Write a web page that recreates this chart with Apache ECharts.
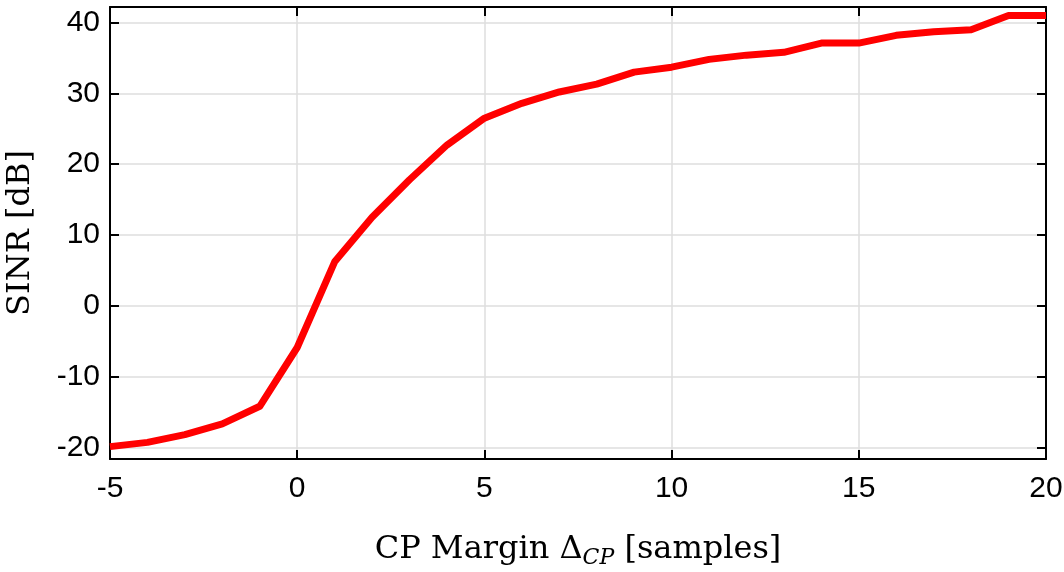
<!DOCTYPE html>
<html>
<head>
<meta charset="utf-8">
<script src="https://cdn.jsdelivr.net/npm/echarts@6/dist/echarts.min.js"></script>
<style>
  html, body { margin: 0; padding: 0; background: #fff; }
  #chart { width: 1064px; height: 572px; }
</style>
</head>
<body>
<div id="chart"></div>
<script>
// CP margin (samples) and SINR (dB)
const cpMargin = [-5, -4, -3, -2, -1, 0, 1, 2, 3, 4, 5, 6, 7, 8, 9, 10, 11, 12, 13, 14, 15, 16, 17, 18, 19, 20];
const sinr = [-19.9, -19.3, -18.2, -16.7, -14.2, -5.9, 6.2, 12.5, 17.8, 22.7, 26.5, 28.6, 30.2, 31.3, 33.0, 33.7, 34.8, 35.4, 35.8, 37.1, 37.1, 38.2, 38.7, 39.0, 41.0, 41.0];
const yTicks = [-20, -10, 0, 10, 20, 30, 40];

const tickFont = 'Liberation Sans, Arial, Helvetica, sans-serif';
const titleFont = 'DejaVu Serif, Liberation Serif, serif';

let chart = echarts.init(document.getElementById('chart'));

const points = cpMargin.map(function (x, i) { return [x, sinr[i]]; });

const frame = { color: '#000', width: 2 };

chart.setOption({
  animation: false,
  grid: { left: 110, right: 18, top: 7, bottom: 113, containLabel: false, outerBoundsMode: 'none' },
  xAxis: [
    {
      type: 'value',
      min: -5, max: 20, interval: 5,
      position: 'bottom',
      axisLine: { show: true, onZero: false, lineStyle: frame },
      axisTick: { show: true, inside: true, length: 9, lineStyle: frame },
      axisLabel: { color: '#000', fontSize: 30, fontFamily: tickFont, margin: 15 },
      splitLine: { show: true, lineStyle: { color: '#dedede', width: 1.5 } },
      name: '{n|CP Margin Δ}{s|CP}{n| [samples]}',
      nameLocation: 'middle',
      nameGap: 72,
      nameTextStyle: {
        rich: {
          n: { fontFamily: titleFont, fontSize: 32, color: '#000' },
          s: { fontFamily: titleFont, fontSize: 22, fontStyle: 'italic', color: '#000', padding: [16, 0, 0, 0] }
        }
      }
    },
    {
      type: 'value',
      min: -5, max: 20, interval: 5,
      position: 'top',
      axisLine: { show: true, onZero: false, lineStyle: frame },
      axisTick: { show: true, inside: true, length: 9, lineStyle: frame },
      axisLabel: { show: false },
      splitLine: { show: false }
    }
  ],
  yAxis: [
    {
      type: 'value',
      min: -21.65, max: 42.2,
      position: 'left',
      axisLine: { show: true, onZero: false, lineStyle: frame },
      axisTick: { show: true, inside: true, length: 9, customValues: yTicks, lineStyle: frame },
      axisLabel: { color: '#000', fontSize: 30, fontFamily: tickFont, margin: 10, customValues: yTicks },
      splitLine: { show: true, lineStyle: { color: '#dedede', width: 1.5 } },
      name: 'SINR [dB]',
      nameLocation: 'middle',
      nameGap: 73,
      nameRotate: 90,
      nameTextStyle: { fontFamily: titleFont, fontSize: 32, color: '#000' }
    },
    {
      type: 'value',
      min: -21.65, max: 42.2,
      position: 'right',
      axisLine: { show: true, onZero: false, lineStyle: frame },
      axisTick: { show: true, inside: true, length: 9, customValues: yTicks, lineStyle: frame },
      axisLabel: { show: false, customValues: yTicks },
      splitLine: { show: false }
    }
  ],
  series: [
    {
      type: 'line',
      data: points,
      showSymbol: false,
      symbol: 'none',
      lineStyle: { color: '#ff0000', width: 7, join: 'round' },
      z: 5
    }
  ]
});
</script>
</body>
</html>
